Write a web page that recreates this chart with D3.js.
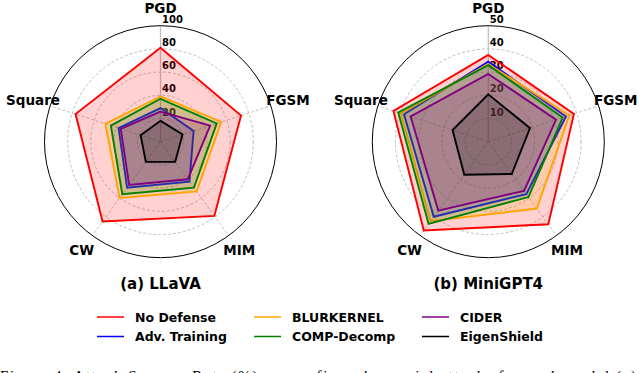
<!DOCTYPE html>
<html>
<head>
<meta charset="utf-8">
<script src="https://cdn.jsdelivr.net/npm/d3@7"></script>
<style>
  body { margin: 0; background: #fff; }
  svg { display: block; }
  text { font-family: "DejaVu Sans", sans-serif; font-weight: bold; fill: #000; }
  .caption { font-family: "Liberation Serif", serif; font-weight: normal; }
</style>
</head>
<body>
<svg id="chart" width="640" height="373"></svg>
<script>
// attack types, clockwise from the top
const attacks = ["PGD", "FGSM", "MIM", "CW", "Square"];
const defenses = ["No Defense", "Adv. Training", "BLURKERNEL", "COMP-Decomp", "CIDER", "EigenShield"];
const defenseColors = ["#ff0000", "#0000ff", "#ffa500", "#008000", "#800080", "#000000"];

// (a) LLaVA, attack success rate (%)
const llavaNoDefense   = [81, 73, 79, 85, 77];
const llavaAdvTraining = [29, 30, 42.5, 49, 38];
const llavaBlurKernel  = [39, 55, 53, 60, 50];
const llavaCompDecomp  = [37, 51, 49, 56, 45];
const llavaCider       = [26, 45, 40, 46, 36];
const llavaEigenShield = [18, 20, 21.5, 21.5, 18];
const llavaTicks = [20, 40, 60, 80, 100];

// (b) MiniGPT4
const miniNoDefense   = [37.4, 38.8, 44, 47.3, 43];
const miniAdvTraining = [34.5, 35.2, 27.9, 40, 38.2];
const miniBlurKernel  = [33.5, 36.7, 35.6, 42.4, 39.6];
const miniCompDecomp  = [33, 33.7, 29.5, 43.8, 40.8];
const miniCider       = [29.2, 30.7, 26.2, 36.7, 35.2];
const miniEigenShield = [20.4, 18.9, 17.2, 17.6, 16.2];
const miniTicks = [10, 20, 30, 40, 50];

const panels = [
  { title: "(a) LLaVA", cx: 160.5, ticks: llavaTicks,
    series: [llavaNoDefense, llavaAdvTraining, llavaBlurKernel, llavaCompDecomp, llavaCider, llavaEigenShield] },
  { title: "(b) MiniGPT4", cx: 488.3, ticks: miniTicks,
    series: [miniNoDefense, miniAdvTraining, miniBlurKernel, miniCompDecomp, miniCider, miniEigenShield] }
];

const svg = d3.select("#chart");
const cy = 141.7;
const R = 116;
const angle = i => i * 2 * Math.PI / attacks.length;

panels.forEach(p => {
  const g = svg.append("g").attr("transform", `translate(${p.cx},${cy})`);
  const r = d3.scaleLinear().domain([0, d3.max(p.ticks)]).range([0, R]);

  // grid rings
  g.selectAll("circle.grid")
    .data(p.ticks.slice(0, -1))
    .join("circle")
    .attr("class", "grid")
    .attr("r", d => r(d))
    .attr("fill", "none")
    .attr("stroke", "#b0b0b0")
    .attr("stroke-width", 0.8)
    .attr("stroke-dasharray", "3,2");

  // spokes
  g.selectAll("line.spoke")
    .data(attacks)
    .join("line")
    .attr("class", "spoke")
    .attr("x1", 0).attr("y1", 0)
    .attr("x2", (d, i) => R * Math.sin(angle(i)))
    .attr("y2", (d, i) => -R * Math.cos(angle(i)))
    .attr("stroke", (d, i) => i === 0 ? "#c0c0c0" : "#b0b0b0")
    .attr("stroke-width", (d, i) => i === 0 ? 1.3 : 0.8)
    .attr("stroke-dasharray", (d, i) => i === 0 ? null : "3,2");

  // outer frame
  g.append("circle").attr("r", R).attr("fill", "none").attr("stroke", "#000").attr("stroke-width", 1);

  // radial tick labels
  g.selectAll("text.tick")
    .data(p.ticks)
    .join("text")
    .attr("class", "tick")
    .attr("x", 1.5)
    .attr("y", d => -r(d) - 3)
    .attr("font-size", 10)
    .text(d => d);

  // attack labels
  g.selectAll("text.axis")
    .data(attacks)
    .join("text")
    .attr("class", "axis")
    .attr("x", (d, i) => (R + 18) * Math.sin(angle(i)))
    .attr("y", (d, i) => -(R + 18) * Math.cos(angle(i)))
    .attr("text-anchor", "middle")
    .attr("dominant-baseline", "central")
    .attr("font-size", 13.5)
    .text(d => d);

  const radar = d3.lineRadial()
    .angle((d, i) => angle(i))
    .radius(d => r(d))
    .curve(d3.curveLinearClosed);

  p.series.forEach((vals, k) => {
    g.append("path")
      .attr("d", radar(vals))
      .attr("fill", defenseColors[k])
      .attr("fill-opacity", 0.18)
      .attr("stroke", defenseColors[k])
      .attr("stroke-width", 1.9)
      .attr("stroke-linejoin", "miter");
  });

  svg.append("text")
    .attr("x", p.cx)
    .attr("y", 288.5)
    .attr("text-anchor", "middle")
    .attr("font-size", 15)
    .text(p.title);
});

// legend, 3 columns x 2 rows
const legendCols = [97, 254, 422];
const legendRows = [317, 336.5];
const legend = svg.append("g");
defenses.forEach((name, k) => {
  const x = legendCols[Math.floor(k / 2)];
  const y = legendRows[k % 2];
  legend.append("line")
    .attr("x1", x).attr("x2", x + 27)
    .attr("y1", y).attr("y2", y)
    .attr("stroke", defenseColors[k])
    .attr("stroke-width", 1.5);
  legend.append("text")
    .attr("x", x + 38)
    .attr("y", y + 4.5)
    .attr("font-size", 12.5)
    .text(name);
});

// figure caption, cut off by the bottom edge as in the source
svg.append("text")
  .attr("class", "caption")
  .attr("x", 0)
  .attr("y", 381)
  .attr("font-size", 15)
  .attr("textLength", 636)
  .attr("lengthAdjust", "spacing")
  .text("Figure 4: Attack Success Rate (%) across five adversarial attacks for each model (a)");
</script>
</body>
</html>
